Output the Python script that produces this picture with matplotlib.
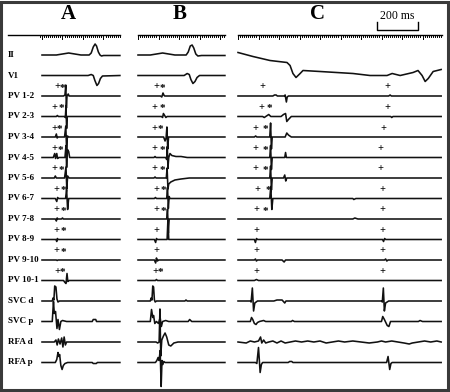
import numpy as np
import matplotlib.pyplot as plt
from matplotlib.patches import Rectangle

# channel rows, top to bottom
CHANNELS = ["II", "V1", "PV 1-2", "PV 2-3", "PV 3-4", "PV 4-5", "PV 5-6", "PV 6-7",
            "PV 7-8", "PV 8-9", "PV 9-10", "PV 10-1", "SVC d", "SVC p", "RFA d", "RFA p"]
PANELS = ["A", "B", "C"]
WINDOW_MS = [380, 424, 991]

# each trace: (time ms, amplitude) vertices
A_TRACES = [
    [(0, 0), (70, 0), (100, 1), (130, 2), (160, 1), (190, 0), (230, 0), (240, 2), (250, 8),
     (259, 11), (266, 9), (275, 3), (283, 0), (290, -1), (300, -0.5), (380, -0.5)],
    [(0, 0), (225, 0), (240, 1), (250, 0), (258, -5), (268, -10), (276, -8), (285, -3),
     (295, -0.5), (380, 0)],
    [(0, 0), (105, 0), (112, 1), (116, 11), (119, -12), (122, 0), (128, 2), (132, 0), (380, 0)],
    [(0, 0), (70, 0), (75, 1), (80, 0), (110, 0), (114, -1), (117, 11), (120, -12), (123, 0),
     (380, 0)],
    [(0, 0), (65, 0), (70, 3), (74, -1), (78, 0), (110, 0), (116, 11), (120, -12), (124, 1),
     (130, 0), (380, 0)],
    [(0, 0), (55, 0), (62, 4), (66, -1), (72, 4), (76, -1), (82, 0), (112, 0), (117, 12),
     (120, -10), (124, 8), (130, 6), (135, 0), (380, 0)],
    [(0, 0), (60, 0), (65, 2), (70, 0), (110, 0), (117, 11), (121, -11), (125, 2), (132, 0),
     (380, 0)],
    [(0, 0), (65, 0), (72, -3), (76, 1), (80, 0), (115, 0), (120, 9), (125, -11), (130, 0),
     (380, 0)],
    [(0, 0), (65, 0), (70, -2), (74, 1), (78, 0), (95, 0), (100, 1), (104, 0), (380, 0)],
    [(0, 0), (68, 0), (72, -2), (75, 1), (78, 0), (380, 0)],
    [(0, 0), (70, 0), (74, -0.5), (78, 0), (380, 0)],
    [(0, 0), (105, 0), (112, -2), (117, -3), (122, 7), (126, -1), (132, 0), (380, 0)],
    [(0, 0), (50, 0), (54, 3), (58, 1), (62, 15), (68, 14), (73, 2), (78, -1), (85, 0),
     (380, 0)],
    [(0, 0), (50, 0), (56, 20), (60, 8), (66, 10), (73, -7), (78, 2), (85, -8), (92, 0),
     (100, 1), (120, 0), (245, 0), (250, 2), (262, 2), (266, 0), (380, 0)],
    [(0, 0), (60, 0), (68, 2), (74, -3), (80, 3), (88, -2), (96, 4), (102, -5), (108, 5),
     (114, -3), (120, 0), (380, 0)],
    [(0, 0), (65, 0), (72, 3), (78, 10), (82, 6), (86, 8), (92, -3), (98, -7), (104, -3),
     (112, -1), (125, 0), (245, 0), (250, -1), (265, -1), (270, 0), (380, 0)],
]

B_TRACES = [
    [(0, 0), (60, 0), (90, 1), (120, 2), (150, 1), (180, 0), (235, 0), (245, 3), (255, 9),
     (264, 10), (272, 7), (282, 1), (292, -1), (310, -0.5), (424, -0.5)],
    [(0, 0), (225, 0), (240, 2), (250, 1), (258, -4), (268, -8), (278, -6), (288, -2),
     (300, 0), (424, 0)],
    [(0, 0), (110, 0), (116, -1), (122, 3), (126, 1), (130, 0), (424, 0)],
    [(0, 0), (115, 0), (120, -1), (124, 3), (130, 1), (136, -1), (142, 0), (424, 0)],
    [(0, 0), (125, 0), (132, -4), (137, -1), (141, 10), (145, -12), (149, 0), (424, 0)],
    [(0, 0), (78, 0), (83, 1), (88, 0), (135, 0), (140, -2), (143, 11), (146, -11), (150, 0),
     (156, 4), (165, 2), (185, 1), (210, 1), (240, 0), (424, 0)],
    [(0, 0), (78, 0), (83, 1), (88, 0), (138, 0), (142, 10), (146, -11), (150, -6), (160, -4),
     (180, -2), (210, -1), (250, 0), (424, 0)],
    [(0, 0), (80, 0), (85, 1), (90, 0), (140, 0), (144, 11), (148, -10), (152, 2), (156, 0),
     (424, 0)],
    [(0, 0), (140, 0), (144, 10), (148, -14), (152, 0), (424, 0)],
    [(0, 0), (80, 0), (86, -3), (90, 1), (94, 0), (142, 0), (146, 20), (150, 0), (424, 0)],
    [(0, 0), (80, 0), (86, -3), (90, 2), (95, -1), (100, 0), (424, 0)],
    [(0, 0), (85, 0), (90, 1), (95, 0), (424, 0)],
    [(0, 0), (60, 0), (64, 3), (68, 1), (72, 15), (76, 14), (80, 1), (84, -1), (90, 0),
     (229, 0), (234, 1), (240, 0), (424, 0)],
    [(0, 0), (60, 0), (66, 12), (72, 4), (76, 6), (82, -2), (90, 0), (100, -2), (108, 4),
     (114, -5), (120, 0), (135, 1), (150, 0), (245, 0), (252, 2), (262, 0), (424, 0)],
    [(0, 0), (88, 0), (96, -1), (103, 0), (107, 33), (111, -14), (116, 2), (124, 6), (132, 9),
     (140, 5), (150, -3), (160, -4), (175, -1), (195, 0), (424, 0)],
    [(0, 0), (85, 0), (92, 2), (98, 5), (103, 2), (108, 12), (113, -24), (117, 2), (121, -2),
     (126, 1), (132, 0), (424, 0)],
]

C_TRACES = [
    [],
    [(0, 23), (73, 19), (156, 15), (239, 13), (254, 10), (268, 2), (283, -2), (303, 2),
     (317, 5), (400, 4), (561, 2), (644, 0), (727, 0), (752, 2), (791, 0), (854, 3),
     (878, 5), (898, 0), (913, -6), (928, -3), (952, 4), (991, 6)],
    [(0, 0), (170, 0), (178, 1), (186, 1), (192, 0), (225, 0), (230, 1), (236, -6), (240, -1),
     (246, 0), (735, 0), (742, 1), (748, 0), (991, 0)],
    [(0, 0), (120, 0), (128, -1), (150, 2), (160, 0), (210, 0), (222, 2), (232, 3), (238, -5),
     (246, -3), (260, 0), (745, 0), (750, -1), (756, 0), (991, 0)],
    [(0, 0), (80, 0), (86, 1), (92, 0), (155, 0), (159, 14), (163, -12), (167, 0), (230, 0),
     (238, 4), (246, 2), (260, 0), (991, 0)],
    [(0, 0), (155, 0), (159, 12), (163, -12), (167, 0), (228, 0), (232, 5), (236, 0), (991, 0)],
    [(0, 0), (155, 0), (159, 12), (163, -12), (167, 0), (222, 0), (228, 3), (233, -3),
     (238, 0), (991, 0)],
    [(0, 0), (155, 0), (160, 12), (165, -11), (170, 0), (560, 0), (565, -1), (575, 0),
     (991, 0)],
    [(0, 0), (560, 0), (570, 1), (585, 0), (991, 0)],
    [(0, 0), (80, 0), (85, -3), (90, 1), (95, 0), (705, 0), (710, -2), (715, 1), (720, 0),
     (991, 0)],
    [(0, 0), (80, 0), (85, 1), (90, -1), (95, 0), (215, 0), (225, -2), (232, 0), (715, 0),
     (720, 1), (726, -1), (732, 0), (991, 0)],
    [(0, 0), (80, 0), (90, 1), (100, 0), (991, 0)],
    [(0, 0), (60, 0), (64, -1), (70, 13), (76, -10), (82, -2), (95, 0), (175, 0), (190, 1),
     (215, 1), (228, -2), (234, 0), (700, 0), (704, -1), (709, 13), (714, -10), (720, -2),
     (735, 0), (991, 0)],
    [(0, 0), (60, 0), (66, 4), (72, 2), (80, -2), (88, -3), (95, -1), (105, 0), (125, 1),
     (135, 0), (260, 0), (266, 1), (275, 0), (700, 0), (706, 5), (714, 2), (728, -4),
     (736, -5), (744, 0), (880, 0), (888, 1), (900, 0), (991, 0)],
    [(0, 0), (40, -1), (60, 1), (80, 0), (100, 1), (110, 5), (116, -1), (125, 2), (135, -1),
     (150, 0), (170, 1), (190, -1), (210, 1), (230, -1), (255, 0), (280, 1), (310, 0),
     (340, 1), (370, 0), (400, 1), (430, -1), (460, 0), (490, 1), (520, 0), (560, 1),
     (600, 0), (640, -1), (680, 0), (700, 1), (720, 0), (750, 1), (780, 0), (810, -1),
     (835, -2), (850, -1), (880, 0), (910, 1), (940, 0), (970, 1), (991, 0)],
    [(0, 0), (85, 0), (92, -1), (100, 15), (108, -10), (114, -2), (120, 0), (245, 0),
     (252, 1), (262, 1), (268, 0), (725, 0), (732, 6), (740, -7), (746, -1), (752, 0),
     (991, 0)],
]

# "+" / "*" annotation times (ms) for rows PV 1-2 .. PV 10-1
A_PLUS = [73, 59, 59, 59, 63, 68, 68, 68, 68, 73]
A_STAR = [98, 93, 83, 88, 93, 102, 102, 102, 102, 98]
B_PLUS = [88, 78, 78, 78, 78, 88, 88, 88, 88, 83]
B_STAR = [117, 117, 107, 117, 117, 122, 122, None, None, 107]
C_PLUS = [117, 112, 83, 83, 83, 93, 88, 88, 88, 88]
C_STAR = [None, 151, 132, 132, 132, 146, 132, None, None, None]
C_PLUS2 = [727, 727, 708, 693, 693, 703, 703, 703, 703, 703]

# layout (pixels of the 450x392 canvas)
W, H = 450, 392
PX_PER_MS = 0.205
ROW_GAP = 20.5
TOP_ROW_PX = 55
PANEL_LEFT_PX = [42, 138, 238]
AX_RANGE = [(-190, 400), (-30, 440), (-30, 1010)]
RULER_START = [-166, 0, 0]
TICK_START = [-10, 0, 0]
LABEL_MS = [127, 205, 390]

serif = "Liberation Serif"
fig = plt.figure(figsize=(W / 100, H / 100), dpi=100)
fig.patch.set_facecolor("white")

all_traces = [A_TRACES, B_TRACES, C_TRACES]
plus_lists = [A_PLUS, B_PLUS, C_PLUS]
star_lists = [A_STAR, B_STAR, C_STAR]

y_top = TOP_ROW_PX
y_bot = TOP_ROW_PX - H

for k in range(3):
    lo, hi = AX_RANGE[k]
    left_px = PANEL_LEFT_PX[k] + lo * PX_PER_MS
    ax = fig.add_axes([left_px / W, 0, (hi - lo) * PX_PER_MS / W, 1])
    ax.set_xlim(lo, hi)
    ax.set_ylim(y_bot, y_top)
    ax.axis("off")

    # time ruler
    ruler_y = TOP_ROW_PX - 35
    ax.plot([RULER_START[k], WINDOW_MS[k] + 2], [ruler_y, ruler_y], color="black", lw=1.0)
    for t in np.arange(TICK_START[k], WINDOW_MS[k] + 1, 10):
        ln = 3.5 if t % 100 == 0 else 1.8
        ax.plot([t, t], [ruler_y, ruler_y - ln], color="black", lw=0.7)

    ax.text(LABEL_MS[k], TOP_ROW_PX - 14, PANELS[k], fontsize=15, fontweight="bold",
            family=serif, ha="center", va="center")

    for i, tr in enumerate(all_traces[k]):
        if not tr:
            continue
        t = np.array([p[0] for p in tr], dtype=float)
        a = np.array([p[1] for p in tr], dtype=float)
        ax.plot(t, a - ROW_GAP * i, color="#111111", lw=1.15, clip_on=False,
                solid_joinstyle="round")

    for j in range(10):
        base = -ROW_GAP * (j + 2) + 9
        ax.text(plus_lists[k][j], base, "+", fontsize=7.5, fontweight="bold", family=serif,
                ha="center", va="center")
        if star_lists[k][j] is not None:
            ax.text(star_lists[k][j], base - 1.5, "*", fontsize=8, fontweight="bold",
                    family=serif, ha="center", va="center")
        if k == 2:
            ax.text(C_PLUS2[j], base, "+", fontsize=7.5, fontweight="bold", family=serif,
                    ha="center", va="center")

    if k == 0:
        for i, name in enumerate(CHANNELS):
            ax.text(-166, -ROW_GAP * i, name, fontsize=6.5, fontweight="bold", family=serif,
                    ha="left", va="center")

    if k == 2:
        # 200 ms scale bar
        bar_y = TOP_ROW_PX - 30
        ax.plot([678, 678, 878, 878], [bar_y + 8, bar_y, bar_y, bar_y + 8], color="black",
                lw=1.0)
        ax.text(778, TOP_ROW_PX - 16, "200 ms", fontsize=8.5, family=serif,
                ha="center", va="center")

fig.add_artist(Rectangle((0.002, 0.004), 0.994, 0.992, transform=fig.transFigure,
                         fill=False, ec="#3a3a3a", lw=2.2))

fig.savefig("out.png", dpi=100)
